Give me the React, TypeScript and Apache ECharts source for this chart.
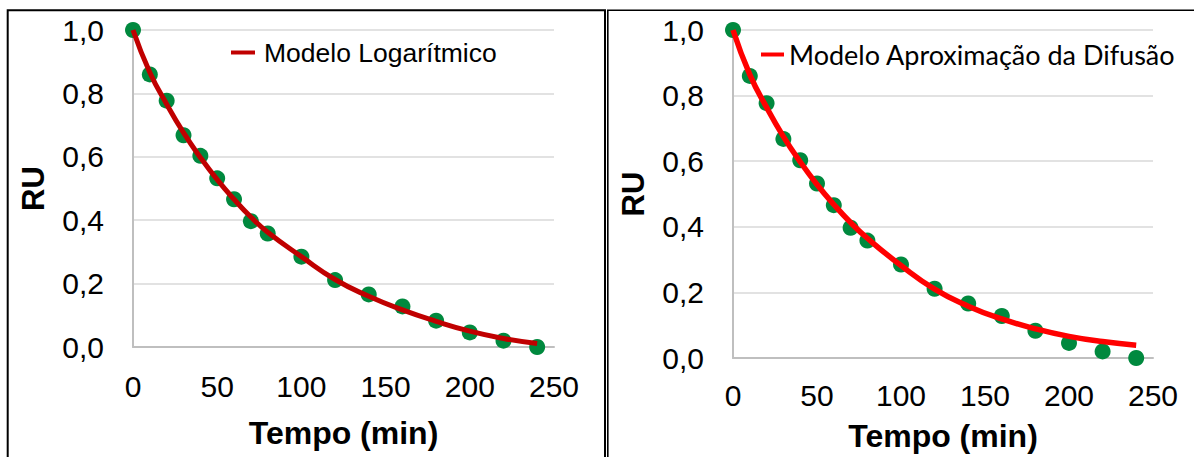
import React, { useEffect, useRef } from "react";
import * as echarts from "echarts";

// Drying time (min) and moisture ratio RU: measured points and the two fitted models
const tempo = [0, 10, 20, 30, 40, 50, 60, 70, 80, 100, 120, 140, 160, 180, 200, 220, 240];
const ruExperimental = [1.0, 0.86, 0.777, 0.668, 0.603, 0.532, 0.466, 0.397, 0.358, 0.285, 0.211, 0.166, 0.128, 0.083, 0.046, 0.02, 0.0];
const ruLogaritmico = [1.0, 0.866, 0.766, 0.676, 0.598, 0.528, 0.466, 0.41, 0.362, 0.285, 0.213, 0.16, 0.117, 0.081, 0.05, 0.027, 0.011];
const ruDifusao = [1.0, 0.864, 0.764, 0.675, 0.598, 0.529, 0.468, 0.413, 0.365, 0.282, 0.21, 0.158, 0.119, 0.089, 0.066, 0.05, 0.039];

const nomeLogaritmico = "Modelo Logarítmico";
const nomeDifusao = "Modelo Aproximação da Difusão";
const tituloX = "Tempo (min)";
const tituloY = "RU";

const FONT = "'Liberation Sans', Arial, sans-serif";
const GREEN = "#00893E";

const pairs = (ys: number[]) => tempo.map((t, i) => [t, ys[i]]);

function makeAxes(gridIndex: number, xNameGap: number, xLabelMargin: number) {
  const xAxis = {
    type: "value",
    gridIndex,
    min: 0,
    max: 250,
    interval: 50,
    name: tituloX,
    nameLocation: "middle",
    nameGap: xNameGap,
    nameTextStyle: { fontFamily: FONT, fontSize: 32, fontWeight: "bold", color: "#000" },
    axisLine: { show: true, lineStyle: { color: "#BFBFBF", width: 2 } },
    axisTick: { show: false },
    splitLine: { show: false },
    axisLabel: { fontFamily: FONT, fontSize: 30, color: "#000", margin: xLabelMargin },
  };
  const yAxis = {
    type: "value",
    gridIndex,
    min: 0,
    max: 1,
    interval: 0.2,
    name: tituloY,
    nameLocation: "middle",
    nameRotate: 90,
    nameGap: 84,
    nameTextStyle: { fontFamily: FONT, fontSize: 31, fontWeight: "bold", color: "#000" },
    axisLine: { show: true, lineStyle: { color: "#BFBFBF", width: 2 } },
    axisTick: { show: false },
    splitLine: { show: true, lineStyle: { color: "#D9D9D9", width: 1.5 } },
    axisLabel: {
      fontFamily: FONT,
      fontSize: 30,
      color: "#000",
      margin: 29,
      formatter: (v: number) => v.toFixed(1).replace(".", ","),
    },
  };
  return { xAxis, yAxis };
}

export default function App() {
  const ref = useRef<HTMLDivElement>(null);

  useEffect(() => {
    if (!ref.current) return;
    const chart = echarts.init(ref.current, null, { renderer: "svg" });

    const a = makeAxes(0, 70, 24);
    const b = makeAxes(1, 62, 22);

    chart.setOption({
      animation: false,
      backgroundColor: "#fff",
      grid: [
        { left: 133, top: 30, width: 421, height: 317 },
        { left: 733, top: 30, width: 420, height: 328 },
      ],
      xAxis: [a.xAxis, b.xAxis],
      yAxis: [a.yAxis, b.yAxis],
      legend: [
        {
          data: [nomeLogaritmico],
          left: 231,
          top: 39,
          padding: 0,
          icon: "rect",
          itemWidth: 24,
          itemHeight: 4,
          textStyle: { fontFamily: FONT, fontSize: 26.5, color: "#000", padding: [0, 0, 0, 4] },
        },
        {
          data: [nomeDifusao],
          left: 761,
          top: 41,
          padding: 0,
          icon: "rect",
          itemWidth: 23,
          itemHeight: 4,
          textStyle: { fontFamily: "Lato, 'Open Sans', sans-serif", fontSize: 27, color: "#000" },
        },
      ],
      graphic: [
        {
          type: "rect",
          shape: { x: 7.7, y: 10.3, width: 597.3, height: 480 },
          style: { fill: "none", stroke: "#000", lineWidth: 2 },
        },
        {
          type: "rect",
          shape: { x: 607.8, y: 10.3, width: 620, height: 480 },
          style: { fill: "none", stroke: "#000", lineWidth: 1.6 },
        },
      ],
      series: [
        {
          name: nomeLogaritmico,
          type: "line",
          xAxisIndex: 0,
          yAxisIndex: 0,
          data: pairs(ruLogaritmico),
          smooth: true,
          showSymbol: false,
          clip: false,
          lineStyle: { color: "#C00000", width: 5 },
          itemStyle: { color: "#C00000" },
        },
        {
          type: "scatter",
          xAxisIndex: 0,
          yAxisIndex: 0,
          data: pairs(ruExperimental),
          symbolSize: 16,
          clip: false,
          itemStyle: { color: GREEN, opacity: 1 },
        },
        {
          name: nomeDifusao,
          type: "line",
          xAxisIndex: 1,
          yAxisIndex: 1,
          data: pairs(ruDifusao),
          smooth: true,
          showSymbol: false,
          clip: false,
          lineStyle: { color: "#FF0000", width: 5.5 },
          itemStyle: { color: "#FF0000" },
        },
        {
          type: "scatter",
          xAxisIndex: 1,
          yAxisIndex: 1,
          data: pairs(ruExperimental),
          symbolSize: 16,
          clip: false,
          itemStyle: { color: GREEN, opacity: 1 },
        },
      ],
    });

    return () => chart.dispose();
  }, []);

  return (
    <div
      ref={ref}
      style={{ position: "fixed", left: 0, top: 0, width: 1194, height: 457, background: "#fff" }}
    />
  );
}
